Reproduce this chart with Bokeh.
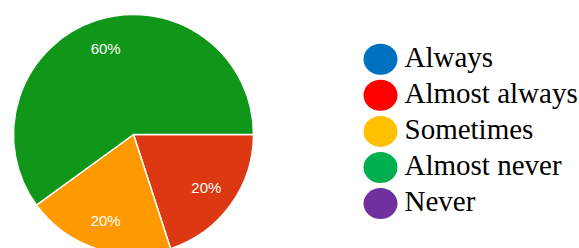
import math
from bokeh.plotting import figure
from bokeh.models import Range1d, ColumnDataSource
from bokeh.core.properties import value
from bokeh.embed import file_html
from bokeh.resources import INLINE

# Data
categories = ["Always", "Almost always", "Sometimes", "Almost never", "Never"]
percent = [0, 20, 20, 60, 0]
pie_colors = ["#3366CC", "#DC3912", "#FF9900", "#109618", "#990099"]
legend_colors = ["#0070C0", "#FF0000", "#FFC000", "#00B050", "#7030A0"]

W, H = 579, 248

def sy(y):
    return H - y

p = figure(width=W, height=H, output_backend="svg", toolbar_location=None,
           x_range=Range1d(0, W), y_range=Range1d(0, H),
           min_border=0)
p.axis.visible = False
p.grid.visible = False
p.outline_line_color = None
p.background_fill_color = "white"

cx, cy, r = 133, 134, 120
total = sum(percent)
cum = 0
ws = dict(start=[], end=[], color=[])
lab = dict(x=[], y=[], text=[])
for v, c in zip(percent, pie_colors):
    before = cum
    cum += v
    if v == 0:
        continue
    a = 2 * math.pi * (1 - cum / total)
    b = 2 * math.pi * (1 - before / total)
    ws["start"].append(a)
    ws["end"].append(b)
    ws["color"].append(c)
    mid = (a + b) / 2
    lab["x"].append(cx + 0.75 * r * math.cos(mid))
    lab["y"].append(sy(cy) + 0.75 * r * math.sin(mid))
    lab["text"].append(f"{v}%")

p.wedge(x=cx, y=sy(cy), radius=r, start_angle="start", end_angle="end",
        fill_color="color", line_color="white", line_width=1.5,
        source=ColumnDataSource(ws))
p.text(x="x", y="y", text="text", source=ColumnDataSource(lab),
       text_color="white", text_font=value("Liberation Sans"),
       text_font_size="15px", text_align="center", text_baseline="middle")

# Legend
ly0, ldy = 58.7, 36.1
leg = dict(x=[], y=[], ty=[], text=[], color=[])
for i, (name, col) in enumerate(zip(categories, legend_colors)):
    yc = ly0 + ldy * i
    leg["x"].append(380)
    leg["y"].append(sy(yc))
    leg["ty"].append(sy(yc - 2.5))
    leg["text"].append(name)
    leg["color"].append(col)
src = ColumnDataSource(leg)
p.ellipse(x="x", y="y", width=34, height=31, fill_color="color",
          line_color=None, source=src)
p.text(x=404, y="ty", text="text", source=src, text_color="black",
       text_font=value("Liberation Serif"), text_font_size="29px",
       text_align="left", text_baseline="middle")

open("out.html", "w").write(file_html(p, INLINE))
